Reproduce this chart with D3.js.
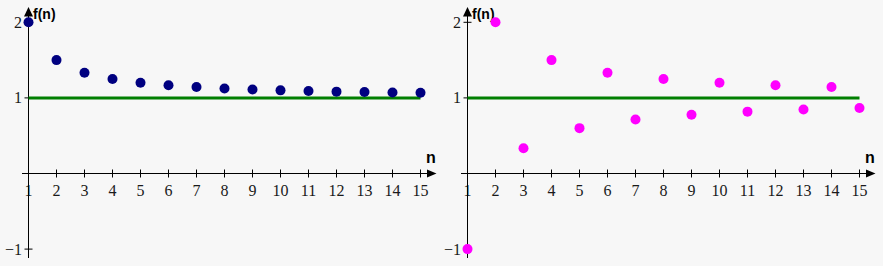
<!DOCTYPE html>
<html>
<head>
<meta charset="utf-8">
<script src="https://cdn.jsdelivr.net/npm/d3@7"></script>
<style>
  html, body { margin: 0; padding: 0; background: #f7f7f7; }
  svg { display: block; }
</style>
</head>
<body>
<div id="chart"></div>
<script>
// n values and the two sequences
const nValues = [1, 2, 3, 4, 5, 6, 7, 8, 9, 10, 11, 12, 13, 14, 15];
const leftSeries = [2, 1.5, 1.333, 1.25, 1.2, 1.167, 1.143, 1.125, 1.111, 1.1, 1.091, 1.083, 1.077, 1.071, 1.067];
const rightSeries = [-1, 2, 0.333, 1.5, 0.6, 1.333, 0.714, 1.25, 0.778, 1.2, 0.818, 1.167, 0.846, 1.143, 0.867];
const xTicks = [2, 3, 4, 5, 6, 7, 8, 9, 10, 11, 12, 13, 14, 15];
const xTickLabels = ['1', '2', '3', '4', '5', '6', '7', '8', '9', '10', '11', '12', '13', '14', '15'];
const yTicks = [-1, 1, 2];
const yTickLabels = ['\u22121', '1', '2'];
const limitValue = 1;

const width = 883;
const height = 266;

const svg = d3.select('#chart').append('svg')
  .attr('width', width)
  .attr('height', height);

svg.append('rect')
  .attr('width', width)
  .attr('height', height)
  .attr('fill', '#f7f7f7');

const serif = '"Liberation Serif", "Times New Roman", serif';
const sans = '"Liberation Sans", Arial, sans-serif';

function drawPanel(offsetX, values, color) {
  const g = svg.append('g')
    .attr('transform', `translate(${offsetX}, 0)`);

  const x = d3.scaleLinear()
    .domain([1, 15])
    .range([28.5, 420.5]);

  const y = d3.scaleLinear()
    .domain([-1, 2])
    .range([249.1, 22.3]);

  const x0 = x(1);
  const y0 = y(0);

  // tick labels
  g.append('g')
    .selectAll('text')
    .data(nValues)
    .join('text')
    .attr('x', d => x(d))
    .attr('y', y0 + 22)
    .attr('text-anchor', 'middle')
    .attr('font-family', serif)
    .attr('font-size', 16)
    .attr('fill', '#1a1a1a')
    .text((d, i) => xTickLabels[i]);

  g.append('g')
    .selectAll('text')
    .data(yTicks)
    .join('text')
    .attr('x', x0 - 6.5)
    .attr('y', d => y(d) + 5.5)
    .attr('text-anchor', 'end')
    .attr('font-family', serif)
    .attr('font-size', 16)
    .attr('fill', '#1a1a1a')
    .text((d, i) => yTickLabels[i]);

  // axes
  const axes = g.append('g')
    .attr('stroke', '#000')
    .attr('stroke-width', 1);

  axes.append('line')
    .attr('x1', x0 - 6.5).attr('x2', x(15) + 7)
    .attr('y1', y0).attr('y2', y0);

  axes.append('line')
    .attr('x1', x0).attr('x2', x0)
    .attr('y1', 258).attr('y2', 15);

  axes.selectAll('.xtick')
    .data(xTicks)
    .join('line')
    .attr('class', 'xtick')
    .attr('x1', d => x(d)).attr('x2', d => x(d))
    .attr('y1', y0 - 4).attr('y2', y0 + 4);

  axes.selectAll('.ytick')
    .data(yTicks)
    .join('line')
    .attr('class', 'ytick')
    .attr('x1', x0 - 4).attr('x2', x0 + 4)
    .attr('y1', d => y(d)).attr('y2', d => y(d));

  // arrow heads
  g.append('path')
    .attr('d', `M${x0},7 L${x0 + 4.5},16.5 L${x0 - 4.5},16.5 Z`)
    .attr('fill', '#000');

  g.append('path')
    .attr('d', `M${x(15) + 16},${y0} L${x(15) + 6.5},${y0 - 4} L${x(15) + 6.5},${y0 + 4} Z`)
    .attr('fill', '#000');

  // axis titles
  g.append('text')
    .attr('x', x0 + 4.5)
    .attr('y', 19)
    .attr('font-family', sans)
    .attr('font-weight', 'bold')
    .attr('font-size', 14)
    .attr('fill', '#000')
    .text('f(n)');

  g.append('text')
    .attr('x', x(15) + 10.5)
    .attr('y', y0 - 10.5)
    .attr('text-anchor', 'middle')
    .attr('font-family', sans)
    .attr('font-weight', 'bold')
    .attr('font-size', 16)
    .attr('fill', '#000')
    .text('n');

  // limit line
  g.append('line')
    .attr('x1', x(1)).attr('x2', x(15))
    .attr('y1', y(limitValue)).attr('y2', y(limitValue))
    .attr('stroke', '#007f00')
    .attr('stroke-width', 3);

  // sequence points
  g.append('g')
    .selectAll('circle')
    .data(values)
    .join('circle')
    .attr('cx', (d, i) => x(nValues[i]))
    .attr('cy', d => y(d))
    .attr('r', 5)
    .attr('fill', color);
}

drawPanel(0, leftSeries, '#000080');
drawPanel(439, rightSeries, '#ff00ff');
</script>
</body>
</html>
